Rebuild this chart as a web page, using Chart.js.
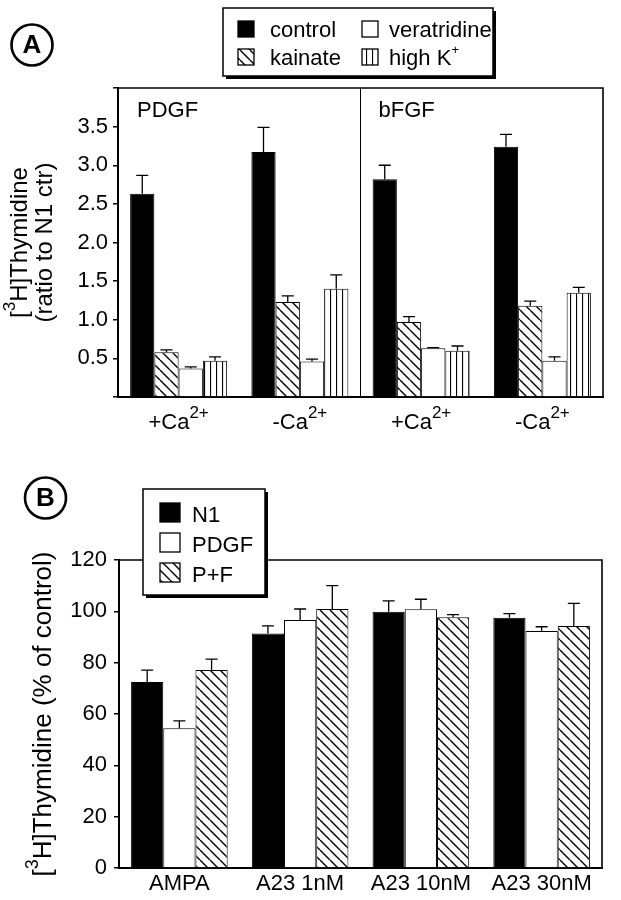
<!DOCTYPE html>
<html>
<head>
<meta charset="utf-8">
<script src="https://cdn.jsdelivr.net/npm/chart.js@4.4.1/dist/chart.umd.min.js"></script>
<style>
body { margin: 0; background: #fff; }
canvas { display: block; }
</style>
</head>
<body>
<canvas id="chartA" width="621" height="450"></canvas>
<canvas id="chartB" width="621" height="450"></canvas>
<script>
// ---- panel A data ----
let groupsA = ['+Ca^{2+}', '-Ca^{2+}', '+Ca^{2+}', '-Ca^{2+}'];
let panelNamesA = ['PDGF', 'bFGF'];
let ticksA = [0.5, 1.0, 1.5, 2.0, 2.5, 3.0, 3.5];
let control = [2.63, 3.17, 2.82, 3.24];
let controlErr = [0.24, 0.32, 0.18, 0.16];
let kainate = [0.58, 1.23, 0.97, 1.18];
let kainateErr = [0.03, 0.08, 0.07, 0.06];
let veratridine = [0.37, 0.46, 0.63, 0.47];
let veratridineErr = [0.02, 0.03, 0.01, 0.05];
let highK = [0.47, 1.40, 0.60, 1.35];
let highKErr = [0.05, 0.18, 0.06, 0.07];

// ---- panel B data ----
let groupsB = ['AMPA', 'A23 1nM', 'A23 10nM', 'A23 30nM'];
let ticksB = [0, 20, 40, 60, 80, 100, 120];
let n1 = [72.5, 91.4, 99.8, 97.5];
let n1Err = [4.6, 2.9, 4.3, 1.6];
let pdgf = [54.4, 96.6, 100.8, 92.3];
let pdgfErr = [2.9, 4.3, 3.9, 1.7];
let pf = [77.1, 100.9, 97.7, 94.3];
let pfErr = [4.3, 9.1, 1.0, 8.8];

const FONT = "'Liberation Sans', Arial, Helvetica, sans-serif";

function hatch(kind) {
    const c = document.createElement('canvas');
    const s = kind === 'vert' ? 6 : 10;
    c.width = s; c.height = s;
    const g = c.getContext('2d');
    g.fillStyle = '#fff';
    g.fillRect(0, 0, s, s);
    g.strokeStyle = '#000';
    g.lineWidth = kind === 'vert' ? 1.2 : 1.4;
    g.beginPath();
    if (kind === 'vert') {
        g.moveTo(0.5, 0); g.lineTo(0.5, s);
    } else {
        for (let k = -s; k <= s; k += s) { g.moveTo(k, 0); g.lineTo(k + s, s); }
    }
    g.stroke();
    return g.createPattern(c, 'repeat');
}
const diag = hatch('diag');
const vert = hatch('vert');

// text with ^{...} superscripts
function richParts(str) {
    const parts = [];
    const re = /\^\{([^}]*)\}/g;
    let last = 0, m;
    while ((m = re.exec(str)) !== null) {
        if (m.index > last) parts.push([str.slice(last, m.index), false]);
        parts.push([m[1], true]);
        last = re.lastIndex;
    }
    if (last < str.length) parts.push([str.slice(last), false]);
    return parts;
}
function drawRich(ctx, str, x, y, size, align, supRatio) {
    const parts = richParts(str);
    const r = supRatio || 0.72;
    const f = (sup) => (sup ? Math.round(size * r) : size) + 'px ' + FONT;
    let w = 0;
    parts.forEach(p => { ctx.font = f(p[1]); w += ctx.measureText(p[0]).width; });
    let cx = align === 'center' ? x - w / 2 : x;
    ctx.textAlign = 'left';
    ctx.textBaseline = 'alphabetic';
    ctx.fillStyle = '#000';
    parts.forEach(p => {
        ctx.font = f(p[1]);
        ctx.fillText(p[0], cx, p[1] ? y - size * 0.5 : y);
        cx += ctx.measureText(p[0]).width;
    });
}

function circleLabel(ctx, letter, x, y) {
    ctx.save();
    ctx.lineWidth = 2.6;
    ctx.strokeStyle = '#000';
    ctx.beginPath();
    ctx.arc(x, y, 20.5, 0, Math.PI * 2);
    ctx.stroke();
    ctx.font = 'bold 26px ' + FONT;
    ctx.fillStyle = '#000';
    ctx.textAlign = 'center';
    ctx.textBaseline = 'middle';
    ctx.fillText(letter, x, y + 1);
    ctx.restore();
}

function legendBox(ctx, x, y, w, h) {
    ctx.fillStyle = '#000';
    ctx.fillRect(x + 3, y + 3, w, h);
    ctx.fillStyle = '#fff';
    ctx.fillRect(x, y, w, h);
    ctx.lineWidth = 1.5;
    ctx.strokeStyle = '#000';
    ctx.strokeRect(x, y, w, h);
}
function swatch(ctx, fill, x, y, w, h) {
    ctx.fillStyle = fill;
    ctx.fillRect(x, y, w, h);
    ctx.lineWidth = 1.3;
    ctx.strokeStyle = '#000';
    ctx.strokeRect(x, y, w, h);
}

// error bars (upper only) from dataset.err
const errorBars = {
    id: 'errorBars',
    afterDatasetsDraw(chart) {
        const ctx = chart.ctx;
        const yScale = chart.scales.y;
        ctx.save();
        ctx.strokeStyle = '#000';
        ctx.lineWidth = 1.3;
        chart.data.datasets.forEach((ds, i) => {
            chart.getDatasetMeta(i).data.forEach((bar, j) => {
                const top = yScale.getPixelForValue(ds.data[j] + ds.err[j]);
                ctx.beginPath();
                ctx.moveTo(bar.x, bar.y);
                ctx.lineTo(bar.x, top);
                ctx.moveTo(bar.x - 6, top);
                ctx.lineTo(bar.x + 6, top);
                ctx.stroke();
            });
        });
        ctx.restore();
    }
};

const frame = {
    id: 'frame',
    afterDatasetsDraw(chart, args, opts) {
        const ctx = chart.ctx;
        const a = chart.chartArea;
        ctx.save();
        ctx.strokeStyle = '#000';
        ctx.lineWidth = 1.6;
        ctx.beginPath();
        ctx.moveTo(a.left, a.top);
        ctx.lineTo(a.right, a.top);
        ctx.lineTo(a.right, a.bottom);
        ctx.stroke();
        if (opts.divider) {
            const xs = chart.scales.x;
            const dx = (xs.getPixelForValue(1) + xs.getPixelForValue(2)) / 2;
            ctx.lineWidth = 1;
            ctx.beginPath();
            ctx.moveTo(dx, a.top);
            ctx.lineTo(dx, a.bottom);
            ctx.stroke();
        }
        ctx.restore();
    }
};

function yTitle(ctx, lines, x0, cy, size) {
    lines.forEach((ln, k) => {
        ctx.save();
        ctx.translate(x0[k], cy);
        ctx.rotate(-Math.PI / 2);
        drawRich(ctx, ln, 0, 0, size, 'center', 0.7);
        ctx.restore();
    });
}

const panelA = {
    id: 'panelA',
    afterDraw(chart) {
        const ctx = chart.ctx;
        const a = chart.chartArea;
        const xs = chart.scales.x;
        ctx.save();
        // category labels with superscripts
        groupsA.forEach((g, i) => drawRich(ctx, g, xs.getPixelForValue(i), 429, 22, 'center', 0.78));
        // panel names
        const dx = (xs.getPixelForValue(1) + xs.getPixelForValue(2)) / 2;
        drawRich(ctx, panelNamesA[0], a.left + 19, 117, 22, 'left');
        drawRich(ctx, panelNamesA[1], dx + 18, 117, 22, 'left');
        // y title
        yTitle(ctx, ['[^{3}H]Thymidine', '(ratio to N1 ctr)'], [27, 52], (a.top + a.bottom) / 2, 24);
        circleLabel(ctx, 'A', 32, 45);
        // legend
        legendBox(ctx, 223, 8, 270, 68);
        const ds = chart.data.datasets;
        const pos = [[238, 21], [238, 49], [362, 21], [362, 49]];
        ds.forEach((d, i) => {
            swatch(ctx, d.backgroundColor, pos[i][0], pos[i][1], 16, 16);
            drawRich(ctx, d.label, pos[i][0] + (i < 2 ? 32 : 27), pos[i][1] + 16, 22, 'left', 0.6);
        });
        ctx.restore();
    }
};

const panelB = {
    id: 'panelB',
    afterDraw(chart) {
        const ctx = chart.ctx;
        const a = chart.chartArea;
        ctx.save();
        yTitle(ctx, ['[^{3}H]Thymidine (% of control)'], [51], (a.top + a.bottom) / 2, 26);
        circleLabel(ctx, 'B', 45.5, 48);
        legendBox(ctx, 143, 39, 122, 106);
        chart.data.datasets.forEach((d, i) => {
            swatch(ctx, d.backgroundColor, 160, 53 + i * 30, 20, 19);
            drawRich(ctx, d.label, 192, 72 + i * 30, 22, 'left');
        });
        ctx.restore();
    }
};

function scalesFor(yMax, step, tickList, yWidth, xHeight, showX, yPad) {
    return {
        x: {
            type: 'category',
            offset: true,
            afterFit: (s) => { s.height = xHeight; },
            grid: { display: false, drawTicks: false },
            border: { display: true, color: '#000', width: 2 },
            ticks: { display: showX, color: '#000', padding: 3, font: { family: FONT, size: 22 } }
        },
        y: {
            min: 0,
            max: yMax,
            afterFit: (s) => { s.width = yWidth; },
            afterBuildTicks: (s) => {
                s.ticks = [0].concat(tickList, [yMax]).filter((v, i, arr) => arr.indexOf(v) === i).map(v => ({ value: v }));
            },
            grid: { display: true, drawOnChartArea: false, drawTicks: true, tickLength: 5, color: '#000', lineWidth: 1.5 },
            border: { display: true, color: '#000', width: 2 },
            ticks: {
                color: '#000',
                padding: yPad,
                font: { family: FONT, size: 22 },
                callback: (v) => tickList.indexOf(v) >= 0 ? (step < 1 ? Number(v).toFixed(1) : String(v)) : ''
            }
        }
    };
}

function barSet(label, data, err, fill) {
    return {
        label: label,
        data: data,
        err: err,
        backgroundColor: fill,
        borderColor: '#000',
        borderWidth: 1,
        categoryPercentage: 0.8,
        barPercentage: 1.0
    };
}

const chartA = new Chart(document.getElementById('chartA'), {
    type: 'bar',
    data: {
        labels: groupsA,
        datasets: [
            barSet('control', control, controlErr, '#000'),
            barSet('kainate', kainate, kainateErr, diag),
            barSet('veratridine', veratridine, veratridineErr, '#fff'),
            barSet('high K^{+}', highK, highKErr, vert)
        ]
    },
    options: {
        responsive: false,
        animation: false,
        layout: { padding: { top: 88, right: 18, left: 0, bottom: 0 } },
        plugins: { legend: { display: false }, tooltip: { enabled: false }, frame: { divider: true } },
        scales: scalesFor(4, 0.5, ticksA, 118, 53, false, 5)
    },
    plugins: [errorBars, frame, panelA]
});

const chartB = new Chart(document.getElementById('chartB'), {
    type: 'bar',
    data: {
        labels: groupsB,
        datasets: [
            barSet('N1', n1, n1Err, '#000'),
            barSet('PDGF', pdgf, pdgfErr, '#fff'),
            barSet('P+F', pf, pfErr, diag)
        ]
    },
    options: {
        responsive: false,
        animation: false,
        layout: { padding: { top: 110, right: 19, left: 0, bottom: 0 } },
        plugins: { legend: { display: false }, tooltip: { enabled: false }, frame: { divider: false } },
        scales: scalesFor(120, 20, ticksB, 119, 32, true, 7)
    },
    plugins: [errorBars, frame, panelB]
});
</script>
</body>
</html>
